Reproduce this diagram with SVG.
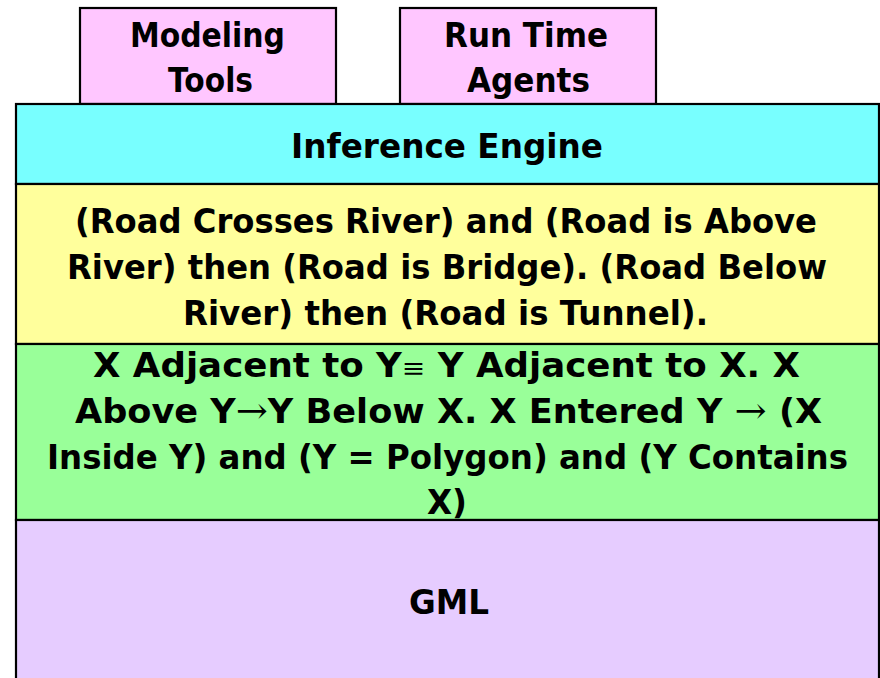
<svg xmlns="http://www.w3.org/2000/svg" width="880" height="678" viewBox="0 0 880 678">
  <style>
    .box { stroke: #000; stroke-width: 2.2; }
    .lbl { font-family: "Comic Sans MS", "DejaVu Sans", "Liberation Sans", sans-serif; font-weight: bold; font-size: 33px; fill: #000; }
    .sym { font-family: "DejaVu Serif", "Liberation Serif", serif; font-weight: normal; font-size: 26px; }
    .arr { font-family: "DejaVu Serif", "Liberation Serif", serif; font-weight: normal; font-size: 36px; }
    .pink { fill: #FFC6FF; }
    .cyan { fill: #78FFFF; }
    .yellow { fill: #FFFF9C; }
    .green { fill: #99FF99; }
    .lavender { fill: #E6CCFF; }
  </style>
  <rect width="880" height="678" fill="#fff"/>

  <g id="modeling-tools">
    <rect class="box pink" x="80" y="8" width="256" height="96"/>
    <text class="lbl" x="130" y="47" textLength="155" lengthAdjust="spacingAndGlyphs">Modeling</text>
    <text class="lbl" x="168" y="92" textLength="85" lengthAdjust="spacingAndGlyphs">Tools</text>
  </g>

  <g id="run-time-agents">
    <rect class="box pink" x="400" y="8" width="256" height="96"/>
    <text class="lbl" x="444" y="47" textLength="164" lengthAdjust="spacingAndGlyphs">Run Time</text>
    <text class="lbl" x="467" y="92" textLength="123" lengthAdjust="spacingAndGlyphs">Agents</text>
  </g>

  <g id="inference-engine">
    <rect class="box cyan" x="16" y="104" width="863" height="80"/>
    <text class="lbl" x="291" y="158" textLength="312" lengthAdjust="spacingAndGlyphs">Inference Engine</text>
  </g>

  <g id="rules">
    <rect class="box yellow" x="16" y="184" width="863" height="160"/>
    <text class="lbl" x="75" y="233" textLength="742" lengthAdjust="spacingAndGlyphs">(Road Crosses River) and (Road is Above</text>
    <text class="lbl" x="67" y="279" textLength="760" lengthAdjust="spacingAndGlyphs">River) then (Road is Bridge). (Road Below</text>
    <text class="lbl" x="183" y="325" textLength="525" lengthAdjust="spacingAndGlyphs">River) then (Road is Tunnel).</text>
  </g>

  <g id="relations">
    <rect class="box green" x="16" y="344" width="863" height="176"/>
    <text class="lbl" x="93" y="377" textLength="707" lengthAdjust="spacingAndGlyphs">X Adjacent to Y<tspan class="sym">≡</tspan> Y Adjacent to X. X</text>
    <text class="lbl" x="75" y="423" textLength="747" lengthAdjust="spacingAndGlyphs">Above Y<tspan class="arr">→</tspan>Y Below X. X Entered Y <tspan class="arr">→</tspan> (X</text>
    <text class="lbl" x="47" y="469" textLength="801" lengthAdjust="spacingAndGlyphs">Inside Y) and (Y = Polygon) and (Y Contains</text>
    <text class="lbl" x="427" y="514" textLength="40" lengthAdjust="spacingAndGlyphs">X)</text>
  </g>

  <g id="gml">
    <rect class="box lavender" x="16" y="520" width="863" height="162"/>
    <text class="lbl" x="409" y="614" textLength="80" lengthAdjust="spacingAndGlyphs">GML</text>
  </g>

  <g id="connectors"/>
</svg>
